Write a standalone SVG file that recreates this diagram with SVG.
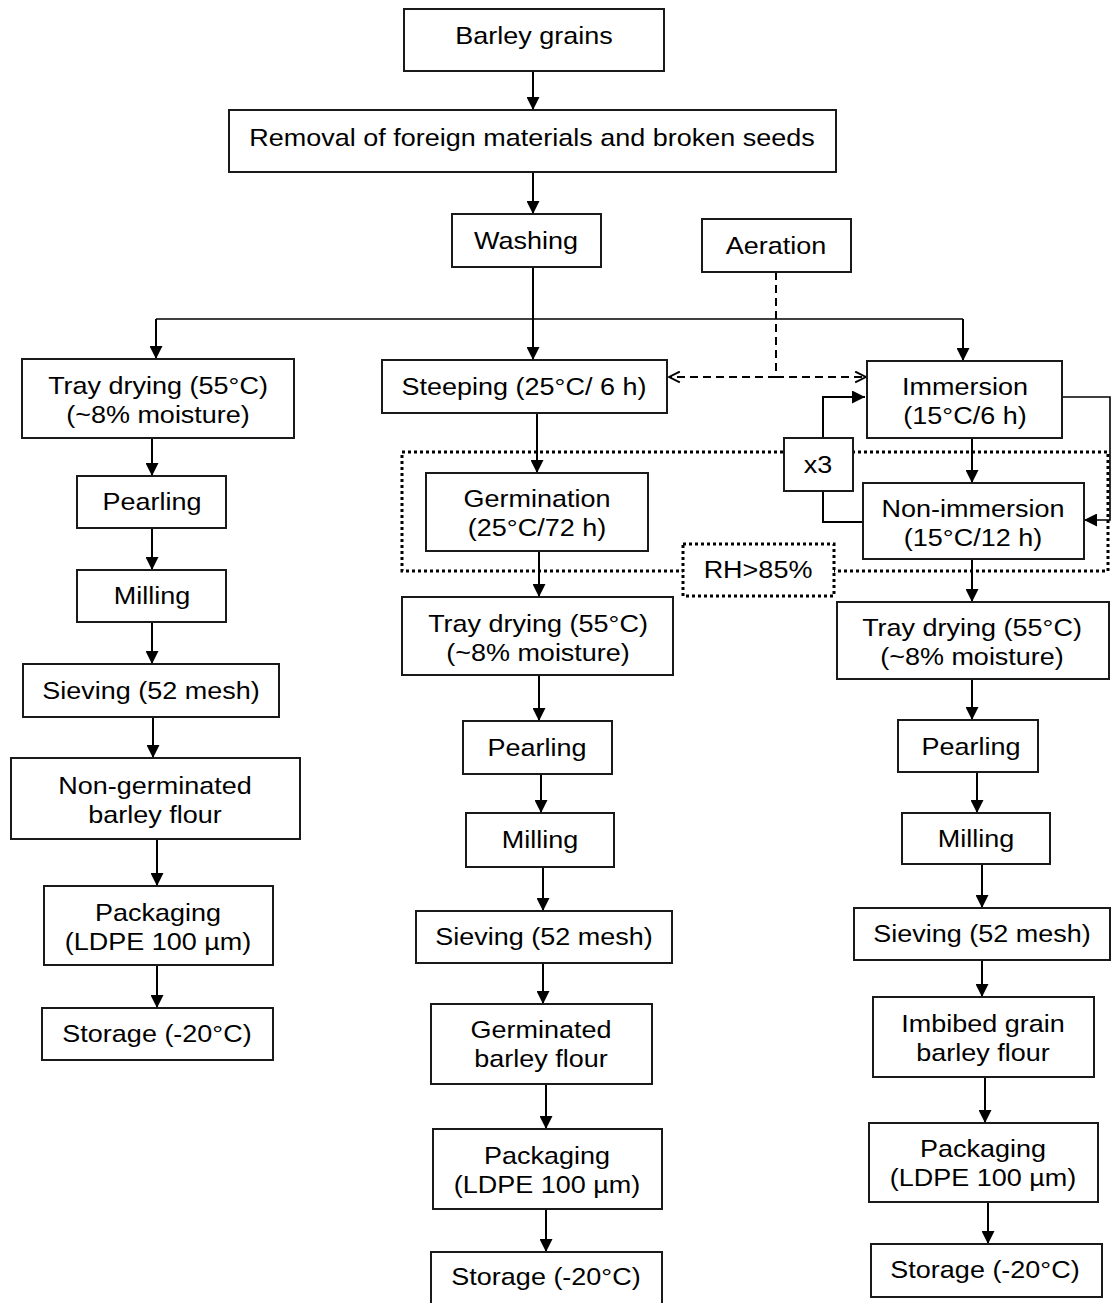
<svg xmlns="http://www.w3.org/2000/svg" width="1112" height="1303" viewBox="0 0 1112 1303">
<defs>
<style>
.b{fill:#fff;stroke:#1a1a1a;stroke-width:2}
.t{font-family:"Liberation Sans",Arial,sans-serif;font-size:24px;fill:#000;text-anchor:middle}
.c{fill:none;stroke:#000;stroke-width:2}
.cs{fill:none;stroke:#000;stroke-width:1.6}
.a{marker-end:url(#ah)}
.d{fill:none;stroke:#000;stroke-width:2;stroke-dasharray:8,5}
.dot{fill:none;stroke:#000;stroke-width:3;stroke-dasharray:3,3}
.dotb{fill:#fff;stroke:#000;stroke-width:3;stroke-dasharray:3,3}
</style>
<marker id="ah" viewBox="0 0 12 12" refX="12" refY="6" markerWidth="13" markerHeight="13" markerUnits="userSpaceOnUse" orient="auto">
<path d="M0,0 L12,6 L0,12 z" fill="#000"/>
</marker>
<marker id="oh" viewBox="0 0 12 12" refX="11" refY="6" markerWidth="13" markerHeight="13" markerUnits="userSpaceOnUse" orient="auto">
<path d="M1,1 L11,6 L1,11" fill="none" stroke="#000" stroke-width="1.8"/>
</marker>
</defs>
<rect width="1112" height="1303" fill="#fff"/>

<!-- humidity enclosure -->
<rect id="rh-zone" class="dot" x="402" y="452" width="706" height="119"/>

<g id="connectors">
<line class="c a" x1="533" y1="71" x2="533" y2="110"/>
<line class="c a" x1="533" y1="172" x2="533" y2="214"/>
<line class="c a" x1="533" y1="267" x2="533" y2="360"/>
<line class="cs" x1="156" y1="319" x2="963" y2="319"/>
<line class="c a" x1="156" y1="319" x2="156" y2="359"/>
<line class="c a" x1="963" y1="319" x2="963" y2="361"/>
<line class="d" x1="776" y1="272" x2="776" y2="377"/>
<line class="d" x1="776" y1="377" x2="669" y2="377" marker-end="url(#oh)"/>
<line class="d" x1="776" y1="377" x2="866" y2="377" marker-end="url(#oh)"/>
<!-- left column -->
<line class="c a" x1="152" y1="438" x2="152" y2="476"/>
<line class="c a" x1="152" y1="528" x2="152" y2="570"/>
<line class="c a" x1="152" y1="622" x2="152" y2="664"/>
<line class="c a" x1="153" y1="717" x2="153" y2="758"/>
<line class="c a" x1="157" y1="839" x2="157" y2="886"/>
<line class="c a" x1="157" y1="965" x2="157" y2="1008"/>
<!-- middle column -->
<line class="c a" x1="537" y1="413" x2="537" y2="473"/>
<line class="c a" x1="539" y1="551" x2="539" y2="597"/>
<line class="c a" x1="539" y1="675" x2="539" y2="721"/>
<line class="c a" x1="541" y1="774" x2="541" y2="813"/>
<line class="c a" x1="543" y1="867" x2="543" y2="911"/>
<line class="c a" x1="543" y1="963" x2="543" y2="1004"/>
<line class="c a" x1="546" y1="1084" x2="546" y2="1129"/>
<line class="c a" x1="546" y1="1209" x2="546" y2="1252"/>
<!-- right column -->
<polyline class="cs a" points="1062,397 1110,397 1110,520 1084,520"/>
<polyline class="c a" points="823,438 823,397 865,397"/>
<polyline class="c" points="823,491 823,522 863,522"/>
<line class="c a" x1="972" y1="438" x2="972" y2="483"/>
<line class="c a" x1="972" y1="559" x2="972" y2="602"/>
<line class="c a" x1="972" y1="679" x2="972" y2="720"/>
<line class="c a" x1="977" y1="772" x2="977" y2="813"/>
<line class="c a" x1="982" y1="864" x2="982" y2="908"/>
<line class="c a" x1="982" y1="960" x2="982" y2="997"/>
<line class="c a" x1="985" y1="1077" x2="985" y2="1123"/>
<line class="c a" x1="988" y1="1202" x2="988" y2="1244"/>
</g>

<g id="barley"><rect class="b" x="404" y="9" width="260" height="62"/><text class="t" transform="translate(534,44) scale(1.125,1)">Barley grains</text></g>
<g id="removal"><rect class="b" x="229" y="110" width="607" height="62"/><text class="t" transform="translate(532,146) scale(1.125,1)">Removal of foreign materials and broken seeds</text></g>
<g id="washing"><rect class="b" x="452" y="214" width="149" height="53"/><text class="t" transform="translate(526,249) scale(1.125,1)">Washing</text></g>
<g id="aeration"><rect class="b" x="702" y="219" width="149" height="53"/><text class="t" transform="translate(776,254) scale(1.125,1)">Aeration</text></g>

<g id="l-tray"><rect class="b" x="22" y="359" width="272" height="79"/><text class="t" transform="translate(158,394) scale(1.125,1)"><tspan x="0">Tray drying (55°C)</tspan><tspan x="0" dy="29">(~8% moisture)</tspan></text></g>
<g id="l-pearling"><rect class="b" x="77" y="476" width="149" height="52"/><text class="t" transform="translate(152,510) scale(1.125,1)">Pearling</text></g>
<g id="l-milling"><rect class="b" x="77" y="570" width="149" height="52"/><text class="t" transform="translate(152,604) scale(1.125,1)">Milling</text></g>
<g id="l-sieving"><rect class="b" x="23" y="664" width="256" height="53"/><text class="t" transform="translate(151,699) scale(1.125,1)">Sieving (52 mesh)</text></g>
<g id="l-flour"><rect class="b" x="11" y="758" width="289" height="81"/><text class="t" transform="translate(155,794) scale(1.125,1)"><tspan x="0">Non-germinated</tspan><tspan x="0" dy="29">barley flour</tspan></text></g>
<g id="l-pack"><rect class="b" x="44" y="886" width="229" height="79"/><text class="t" transform="translate(158,921) scale(1.125,1)"><tspan x="0">Packaging</tspan><tspan x="0" dy="29">(LDPE 100 µm)</tspan></text></g>
<g id="l-storage"><rect class="b" x="42" y="1008" width="231" height="52"/><text class="t" transform="translate(157,1042) scale(1.125,1)">Storage (-20°C)</text></g>

<g id="m-steeping"><rect class="b" x="382" y="360" width="285" height="53"/><text class="t" transform="translate(524,395) scale(1.125,1)">Steeping (25°C/ 6 h)</text></g>
<g id="m-germination"><rect class="b" x="426" y="473" width="222" height="78"/><text class="t" transform="translate(537,507) scale(1.125,1)"><tspan x="0">Germination</tspan><tspan x="0" dy="29">(25°C/72 h)</tspan></text></g>
<g id="m-tray"><rect class="b" x="402" y="597" width="271" height="78"/><text class="t" transform="translate(538,632) scale(1.125,1)"><tspan x="0">Tray drying (55°C)</tspan><tspan x="0" dy="29">(~8% moisture)</tspan></text></g>
<g id="m-pearling"><rect class="b" x="463" y="721" width="149" height="53"/><text class="t" transform="translate(537,756) scale(1.125,1)">Pearling</text></g>
<g id="m-milling"><rect class="b" x="466" y="813" width="148" height="54"/><text class="t" transform="translate(540,848) scale(1.125,1)">Milling</text></g>
<g id="m-sieving"><rect class="b" x="416" y="911" width="256" height="52"/><text class="t" transform="translate(544,945) scale(1.125,1)">Sieving (52 mesh)</text></g>
<g id="m-flour"><rect class="b" x="431" y="1004" width="221" height="80"/><text class="t" transform="translate(541,1038) scale(1.125,1)"><tspan x="0">Germinated</tspan><tspan x="0" dy="29">barley flour</tspan></text></g>
<g id="m-pack"><rect class="b" x="433" y="1129" width="229" height="80"/><text class="t" transform="translate(547,1164) scale(1.125,1)"><tspan x="0">Packaging</tspan><tspan x="0" dy="29">(LDPE 100 µm)</tspan></text></g>
<g id="m-storage"><rect class="b" x="431" y="1252" width="231" height="60"/><text class="t" transform="translate(546,1285) scale(1.125,1)">Storage (-20°C)</text></g>

<g id="r-immersion"><rect class="b" x="867" y="361" width="195" height="77"/><text class="t" transform="translate(965,395) scale(1.125,1)"><tspan x="0">Immersion</tspan><tspan x="0" dy="29">(15°C/6 h)</tspan></text></g>
<g id="x3"><rect class="b" x="784" y="438" width="69" height="53"/><text class="t" transform="translate(818,473) scale(1.125,1)">x3</text></g>
<g id="r-nonimmersion"><rect class="b" x="863" y="483" width="221" height="76"/><text class="t" transform="translate(973,517) scale(1.125,1)"><tspan x="0">Non-immersion</tspan><tspan x="0" dy="29">(15°C/12 h)</tspan></text></g>
<g id="rh"><rect class="dotb" x="683" y="544" width="151" height="52"/><text class="t" transform="translate(758,578) scale(1.125,1)">RH&gt;85%</text></g>
<g id="r-tray"><rect class="b" x="837" y="602" width="272" height="77"/><text class="t" transform="translate(972,636) scale(1.125,1)"><tspan x="0">Tray drying (55°C)</tspan><tspan x="0" dy="29">(~8% moisture)</tspan></text></g>
<g id="r-pearling"><rect class="b" x="898" y="720" width="140" height="52"/><text class="t" transform="translate(971,755) scale(1.125,1)">Pearling</text></g>
<g id="r-milling"><rect class="b" x="902" y="813" width="148" height="51"/><text class="t" transform="translate(976,847) scale(1.125,1)">Milling</text></g>
<g id="r-sieving"><rect class="b" x="854" y="908" width="256" height="52"/><text class="t" transform="translate(982,942) scale(1.125,1)">Sieving (52 mesh)</text></g>
<g id="r-flour"><rect class="b" x="873" y="997" width="221" height="80"/><text class="t" transform="translate(983,1032) scale(1.125,1)"><tspan x="0">Imbibed grain</tspan><tspan x="0" dy="29">barley flour</tspan></text></g>
<g id="r-pack"><rect class="b" x="869" y="1123" width="229" height="79"/><text class="t" transform="translate(983,1157) scale(1.125,1)"><tspan x="0">Packaging</tspan><tspan x="0" dy="29">(LDPE 100 µm)</tspan></text></g>
<g id="r-storage"><rect class="b" x="871" y="1244" width="231" height="53"/><text class="t" transform="translate(985,1278) scale(1.125,1)">Storage (-20°C)</text></g>
</svg>
